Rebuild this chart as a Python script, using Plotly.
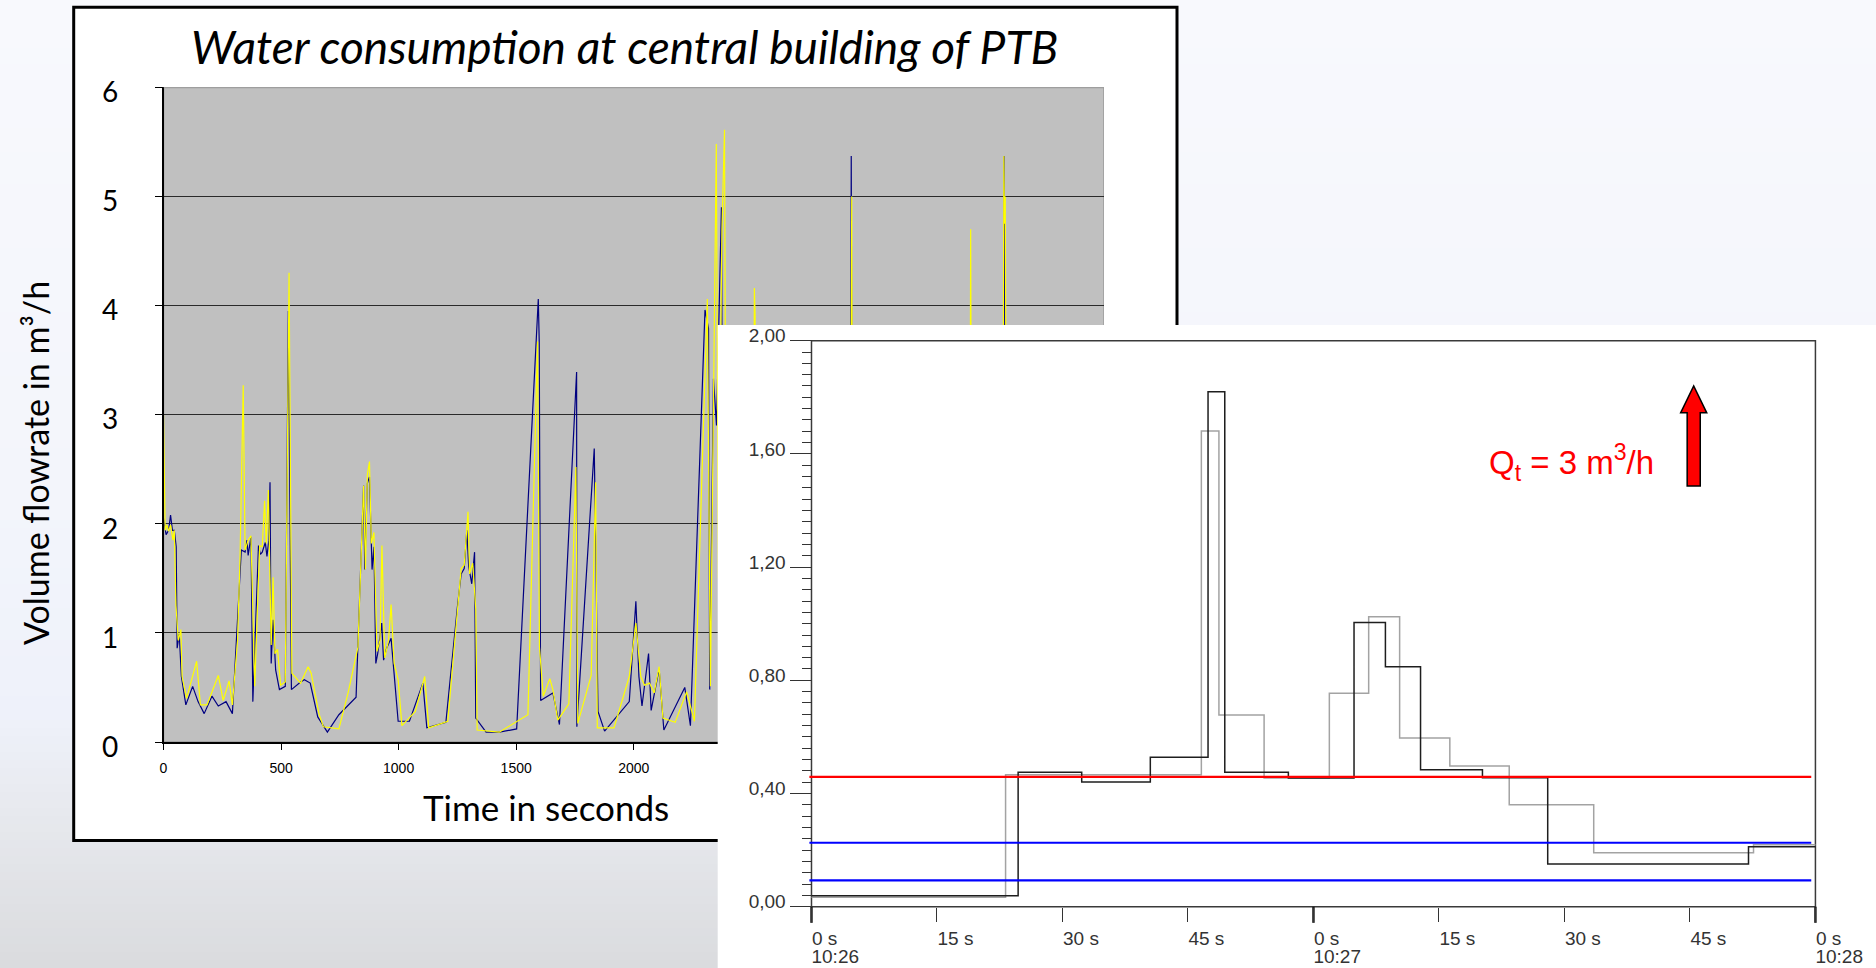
import plotly.graph_objects as go

W, H = 1876, 968

# ---------------- left chart: water consumption (time in s, flow in m3/h) ----------------
navy_t = [0, 11, 22, 30, 38, 46, 54, 58, 67, 76, 95, 124, 147, 173, 206, 233, 266, 293, 331, 347,
          355, 360, 372, 380, 404, 412, 420, 433, 440, 448, 453, 458, 466, 477, 493, 518, 531, 544,
          583, 599, 624, 656, 697, 746, 819, 851, 856, 867, 876, 887, 895, 903, 911, 928, 936, 949,
          968, 981, 998, 1046, 1103, 1120, 1201, 1250, 1266, 1279, 1290, 1298, 1311, 1323, 1328,
          1372, 1428, 1502, 1594, 1598, 1604, 1656, 1684, 1757, 1758, 1832, 1848, 1876, 1981, 2009,
          2022, 2035, 2063, 2074, 2108, 2128, 2217, 2241, 2303, 2318, 2323, 2339, 2352, 2373, 2380,
          2920, 2925, 2930, 3570, 3575, 3578, 3585, 3995]
navy_v = [2.05, 1.90, 1.94, 2.08, 1.94, 1.94, 1.79, 0.86, 0.99, 0.60, 0.34, 0.51, 0.37, 0.26, 0.42,
          0.33, 0.37, 0.26, 1.76, 1.74, 1.85, 1.71, 1.88, 0.37, 1.80, 1.72, 1.74, 1.83, 1.70, 1.85,
          2.38, 0.72, 1.12, 0.66, 0.48, 0.51, 3.95, 0.48, 0.55, 0.57, 0.54, 0.23, 0.09, 0.25, 0.41,
          2.35, 1.58, 2.37, 2.43, 1.58, 1.79, 0.72, 0.81, 1.09, 0.75, 0.86, 0.95, 0.60, 0.19, 0.19,
          0.54, 0.13, 0.18, 1.24, 1.54, 1.59, 1.94, 1.61, 1.45, 1.74, 0.22, 0.09, 0.09, 0.12, 4.06,
          3.67, 0.38, 0.45, 0.16, 3.39, 0.14, 2.69, 0.28, 0.10, 0.37, 1.29, 0.60, 0.33, 0.81, 0.29,
          0.67, 0.11, 0.50, 0.15, 3.96, 3.79, 0.48, 3.33, 2.90, 4.90, 1.00, 0.50, 5.37, 0.50, 0.50,
          5.37, 4.38, 0.50, 0.40]

yellow_t = [0, 7, 14, 22, 30, 40, 46, 53, 63, 74, 79, 98, 141, 157, 185, 233, 254, 279, 293, 315,
            326, 339, 347, 360, 372, 388, 409, 420, 430, 437, 446, 458, 466, 474, 485, 498, 518, 534,
            546, 583, 615, 628, 661, 680, 746, 786, 827, 851, 859, 867, 876, 884, 895, 908, 921, 929,
            941, 957, 968, 981, 998, 1014, 1071, 1111, 1128, 1209, 1266, 1279, 1295, 1302, 1315,
            1328, 1334, 1428, 1550, 1591, 1599, 1615, 1643, 1656, 1677, 1724, 1754, 1762, 1819, 1838,
            1845, 1916, 1981, 2009, 2030, 2046, 2067, 2087, 2108, 2124, 2176, 2225, 2258, 2313, 2326,
            2351, 2360, 2375, 2386, 2392, 2508, 2513, 2516, 2520, 2920, 2927, 2932, 3428, 3433, 3438,
            3568, 3574, 3577, 3580, 3588, 3995]
yellow_v = [3.00, 1.94, 1.99, 1.93, 1.99, 1.85, 1.94, 1.25, 0.93, 1.03, 0.60, 0.40, 0.74, 0.34, 0.34,
            0.61, 0.38, 0.56, 0.34, 0.93, 1.73, 3.27, 1.76, 1.85, 1.89, 0.51, 1.80, 1.79, 2.21, 1.82,
            2.31, 0.89, 1.51, 0.81, 0.85, 0.52, 0.55, 4.30, 0.63, 0.54, 0.69, 0.63, 0.26, 0.14, 0.12,
            0.46, 0.87, 2.35, 1.58, 2.45, 2.57, 1.82, 1.92, 0.83, 0.93, 1.80, 0.77, 0.93, 1.26, 0.72,
            0.57, 0.15, 0.28, 0.60, 0.13, 0.19, 1.59, 1.62, 2.11, 1.54, 1.64, 1.22, 0.11, 0.09, 0.25,
            3.67, 0.87, 0.42, 0.58, 0.48, 0.20, 0.35, 2.52, 0.17, 0.61, 2.38, 0.13, 0.13, 0.60, 1.09,
            0.60, 0.52, 0.54, 0.45, 0.69, 0.22, 0.18, 0.46, 0.19, 4.06, 0.51, 5.48, 1.50, 4.70, 5.61,
            2.00, 1.00, 4.16, 3.92, 1.00, 0.50, 5.00, 0.50, 0.50, 4.70, 0.50, 0.50, 5.37, 4.75, 5.00,
            0.50, 0.40]

left_xticks = [0, 500, 1000, 1500, 2000, 2500, 3000, 3500, 4000]
left_yticks = [0, 1, 2, 3, 4, 5, 6]

# ---------------- right chart: step records (seconds after 10:26, m3/h) ----------------
black_t = [0, 24.7, 32.3, 40.5, 47.4, 49.4, 57.0, 64.85, 68.6, 72.8, 80.2, 88.0, 112.0, 120]
black_v = [0.039, 0.475, 0.441, 0.528, 1.82, 0.475, 0.455, 1.004, 0.848, 0.484, 0.456, 0.151, 0.212, 0.212]
gray_t = [0, 23.2, 46.6, 48.7, 54.1, 61.9, 66.6, 70.3, 76.3, 83.4, 93.5, 112.6, 120]
gray_v = [0.033, 0.466, 1.681, 0.677, 0.455, 0.754, 1.025, 0.596, 0.497, 0.360, 0.191, 0.219, 0.219]
red_level = 0.459
blue_levels = [0.226, 0.093]

r_xticks = [0, 15, 30, 45, 60, 75, 90, 105, 120]
r_xtext = ['0 s', '15 s', '30 s', '45 s', '0 s', '15 s', '30 s', '45 s', '0 s']
r_minutes = [0, 60, 120]
r_minute_text = ['10:26', '10:27', '10:28']
r_yticks = [0, 0.4, 0.8, 1.2, 1.6, 2.0]
r_ytext = ['0,00', '0,40', '0,80', '1,20', '1,60', '2,00']
r_yminor = [round(0.04 * k, 2) for k in range(1, 50)]

# ---------------- figure ----------------
fig = go.Figure()

fig.add_trace(go.Scatter(x=navy_t, y=navy_v, mode='lines', line=dict(color='#000080', width=1.2),
                         xaxis='x', yaxis='y', hoverinfo='skip'))
fig.add_trace(go.Scatter(x=yellow_t, y=yellow_v, mode='lines', line=dict(color='#ffff00', width=1.2),
                         xaxis='x', yaxis='y', hoverinfo='skip'))

fig.add_trace(go.Scatter(x=gray_t, y=gray_v, mode='lines', line_shape='hv',
                         line=dict(color='#a3a3a3', width=1.5), xaxis='x2', yaxis='y2'))
fig.add_trace(go.Scatter(x=black_t, y=black_v, mode='lines', line_shape='hv',
                         line=dict(color='#1e1e1e', width=1.5), xaxis='x2', yaxis='y2'))
fig.add_trace(go.Scatter(x=[-0.25, 119.5], y=[red_level, red_level], mode='lines',
                         line=dict(color='#ff0000', width=2.2), xaxis='x2', yaxis='y2'))
for lv in blue_levels:
    fig.add_trace(go.Scatter(x=[-0.25, 119.5], y=[lv, lv], mode='lines',
                             line=dict(color='#0000ff', width=2.2), xaxis='x2', yaxis='y2'))
fig.add_trace(go.Scatter(x=[], y=[], mode='lines', xaxis='x3', yaxis='y2'))

# slide background gradient (style only)
stops = [(0, (248, 249, 253)), (500, (243, 245, 251)), (720, (238, 241, 250)),
         (800, (232, 234, 239)), (968, (218, 219, 222))]


def grad(y):
    for (a, ca), (b, cb) in zip(stops[:-1], stops[1:]):
        if a <= y <= b:
            f = (y - a) / (b - a)
            return 'rgb(%d,%d,%d)' % tuple(round(ca[i] + (cb[i] - ca[i]) * f) for i in range(3))
    return 'rgb(%d,%d,%d)' % stops[-1][1]


shapes = []
for y in range(0, H, 8):
    shapes.append(dict(type='rect', xref='paper', yref='paper', x0=0, x1=1,
                       y0=1 - (y + 8) / H, y1=1 - y / H, fillcolor=grad(y + 4),
                       line=dict(width=0), layer='below'))
# left chart frame
shapes.append(dict(type='rect', xref='paper', yref='paper', x0=73.7 / W, x1=1177 / W,
                   y0=1 - 840.5 / H, y1=1 - 7.3 / H, fillcolor='white',
                   line=dict(color='black', width=3), layer='below'))
# left plot area background
shapes.append(dict(type='rect', xref='x', yref='y', x0=0, x1=4000, y0=0, y1=6,
                   fillcolor='#c0c0c0', line=dict(color='#9a9a9a', width=1.5), layer='below'))
shapes.append(dict(type='line', xref='x', yref='y', x0=0, x1=4000, y0=6, y1=6,
                   line=dict(color='#9a9a9a', width=2), layer='above'))
# right chart frame
shapes.append(dict(type='rect', xref='x2', yref='y2', x0=0, x1=120, y0=0, y1=2,
                   line=dict(color='#3a3a3a', width=1.5), layer='below'))
for m in r_minutes:
    shapes.append(dict(type='line', xref='x2', yref='y2', x0=m, x1=m, y0=0, y1=-0.057,
                       line=dict(color='#1e1e1e', width=2.5), layer='below'))
# red arrow (annotation decoration)
ax_c, ax_sh, ax_hw = 105.45, 0.78, 1.56
ay_b, ay_hb, ay_t = 1.487, 1.745, 1.840
arrow_path = ('M %f %f L %f %f L %f %f L %f %f L %f %f L %f %f L %f %f Z' % (
    ax_c - ax_sh, ay_b, ax_c - ax_sh, ay_hb, ax_c - ax_hw, ay_hb, ax_c, ay_t,
    ax_c + ax_hw, ay_hb, ax_c + ax_sh, ay_hb, ax_c + ax_sh, ay_b))
shapes.append(dict(type='path', xref='x2', yref='y2', path=arrow_path, fillcolor='#ff0000',
                   line=dict(color='black', width=1.5), layer='above'))

cal = 'Lato, Carlito, Calibri, sans-serif'
ari = 'Liberation Sans, Arial, sans-serif'

annotations = [
    dict(text='<i>Water consumption at central building of PTB</i>', xref='paper', yref='paper',
         x=624.5 / W, y=1 - 46 / H, xanchor='center', yanchor='middle', showarrow=False,
         font=dict(family=cal, size=46, color='black')),
    dict(text='Volume flowrate in m³/h', xref='paper', yref='paper', x=35 / W, y=1 - 463 / H,
         xanchor='center', yanchor='middle', textangle=-90, showarrow=False,
         font=dict(family=cal, size=34, color='black')),
    dict(text='Time in seconds', xref='paper', yref='paper', x=546 / W, y=1 - 807 / H,
         xanchor='center', yanchor='middle', showarrow=False,
         font=dict(family=cal, size=35, color='black')),
    dict(text='Q<sub>t</sub> = 3 m<sup>3</sup>/h', xref='x2', yref='y2', x=90.8, y=1.57,
         xanchor='center', yanchor='middle', showarrow=False,
         font=dict(family=ari, size=33, color='#ff0000')),
]

fig.update_layout(
    template='plotly',
    width=W, height=H, autosize=False,
    margin=dict(l=0, r=0, t=0, b=0, pad=0, autoexpand=False),
    paper_bgcolor='#f5f7fc', plot_bgcolor='white',
    showlegend=False,
    shapes=shapes, annotations=annotations,
    xaxis=dict(domain=[163.5 / W, 1104 / W], range=[0, 4000], anchor='y', automargin=False,
               tickmode='array', tickvals=left_xticks, ticks='outside', ticklen=6,
               tickcolor='black', showline=True, linecolor='black', linewidth=1.5,
               showgrid=False, zeroline=False, ticklabelstandoff=6,
               tickfont=dict(family=ari, size=14, color='black')),
    yaxis=dict(domain=[1 - 742 / H, 1 - 87.3 / H], range=[0, 6], anchor='x', automargin=False,
               tickmode='array', tickvals=left_yticks, ticks='outside', ticklen=7,
               tickcolor='black', showline=True, linecolor='black', linewidth=1.5,
               showgrid=True, gridcolor='#2a2a2a', gridwidth=1, zeroline=False,
               ticklabelstandoff=31, ticklabelshift=5,
               tickfont=dict(family=cal, size=28, color='black')),
    xaxis2=dict(domain=[717.7 / W, 1], range=[-11.21, 127.24], anchor='free', automargin=False,
                position=1 - 906.7 / H, tickmode='array', tickvals=r_xticks, ticktext=r_xtext,
                ticks='outside', ticklen=14, tickcolor='#333', tickwidth=1,
                ticklabelposition='outside right', ticklabelstandoff=14, showline=False,
                showgrid=False, zeroline=False, tickfont=dict(family=ari, size=19, color='#333')),
    xaxis3=dict(overlaying='x2', range=[-11.21, 127.24], anchor='free', position=1 - 906.7 / H,
                automargin=False, tickmode='array', tickvals=r_minutes, ticktext=r_minute_text,
                ticks='', ticklabelposition='outside right', ticklabelstandoff=36, showline=False,
                showgrid=False, zeroline=False, tickfont=dict(family=ari, size=19, color='#333')),
    yaxis2=dict(domain=[0, 1 - 325 / H], range=[-0.2166, 2.0555], anchor='free', automargin=False,
                position=811.5 / W, tickmode='array', tickvals=r_yticks, ticktext=r_ytext,
                ticks='outside', ticklen=22, tickcolor='#333', tickwidth=1,
                minor=dict(tickmode='array', tickvals=r_yminor, ticks='outside', ticklen=10,
                           tickcolor='#333', tickwidth=1, showgrid=False),
                ticklabelshift=-5, showline=False, showgrid=False, zeroline=False,
                tickfont=dict(family=ari, size=19, color='#333')),
)

fig.write_html("out.html", include_plotlyjs=True, config={'displayModeBar': False},
               post_script="document.body.style.margin='0';document.body.style.overflow='hidden';")
